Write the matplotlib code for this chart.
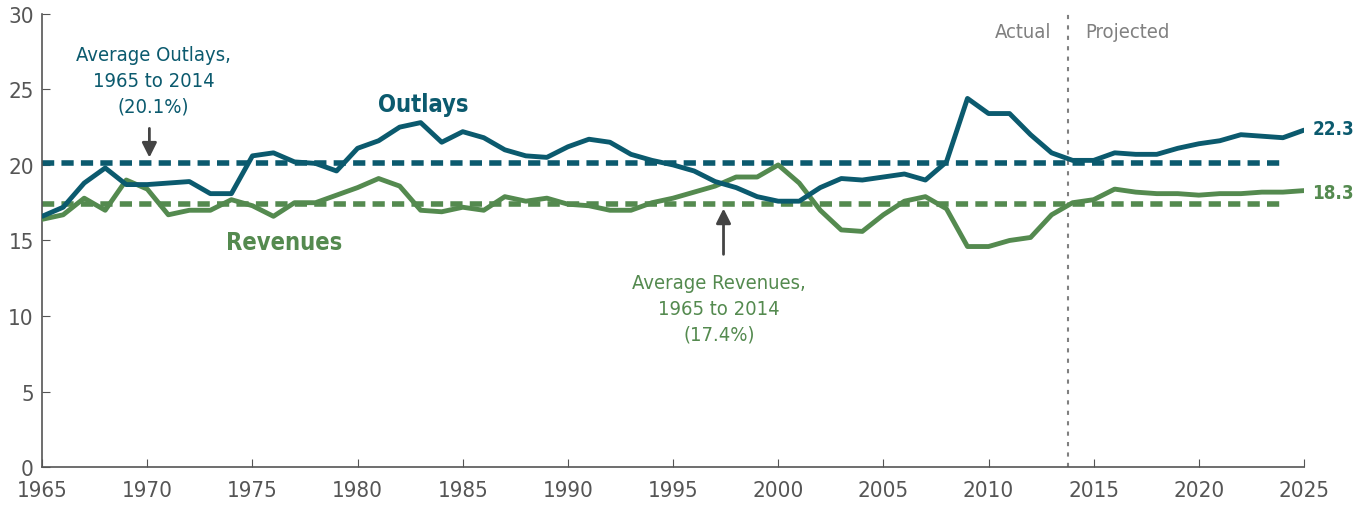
import matplotlib
matplotlib.use("Agg")
import matplotlib.pyplot as plt
from matplotlib import font_manager

years = list(range(1965, 2026))
outlays = [16.6, 17.2, 18.8, 19.8, 18.7, 18.7, 18.8, 18.9, 18.1, 18.1,
           20.6, 20.8, 20.2, 20.1, 19.6, 21.1, 21.6, 22.5, 22.8, 21.5,
           22.2, 21.8, 21.0, 20.6, 20.5, 21.2, 21.7, 21.5, 20.7, 20.3,
           20.0, 19.6, 18.9, 18.5, 17.9, 17.6, 17.6, 18.5, 19.1, 19.0,
           19.2, 19.4, 19.0, 20.2, 24.4, 23.4, 23.4, 22.0, 20.8, 20.3,
           20.3, 20.8, 20.7, 20.7, 21.1, 21.4, 21.6, 22.0, 21.9, 21.8,
           22.3]
revenues = [16.4, 16.7, 17.8, 17.0, 19.0, 18.4, 16.7, 17.0, 17.0, 17.7,
            17.3, 16.6, 17.5, 17.5, 18.0, 18.5, 19.1, 18.6, 17.0, 16.9,
            17.2, 17.0, 17.9, 17.6, 17.8, 17.4, 17.3, 17.0, 17.0, 17.5,
            17.8, 18.2, 18.6, 19.2, 19.2, 20.0, 18.8, 17.0, 15.7, 15.6,
            16.7, 17.6, 17.9, 17.1, 14.6, 14.6, 15.0, 15.2, 16.7, 17.5,
            17.7, 18.4, 18.2, 18.1, 18.1, 18.0, 18.1, 18.1, 18.2, 18.2,
            18.3]
avg_outlays = 20.1
avg_revenues = 17.4
avg_span = [1965, 2024]
divider_year = 2013.8
x_ticks = [1965, 1970, 1975, 1980, 1985, 1990, 1995, 2000, 2005, 2010, 2015, 2020, 2025]
y_ticks = [0, 5, 10, 15, 20, 25, 30]

# Look for a condensed/narrow face among installed fonts
cond = [f for f in font_manager.fontManager.ttflist
        if any(k in f.fname.lower() for k in ('narrow', 'condensed', 'cond'))]
props_reg = None
props_bold = None
for f in cond:
    if f.style != 'normal':
        continue
    w = f.weight if isinstance(f.weight, int) else (700 if f.weight == 'bold' else 400)
    if w >= 600 and props_bold is None:
        props_bold = f.fname
    if w < 600 and props_reg is None:
        props_reg = f.fname

plt.rcParams['font.family'] = ['Roboto', 'DejaVu Sans']

def fp(bold=False, size=15):
    path = props_bold if bold else props_reg
    if path:
        return font_manager.FontProperties(fname=path, size=size)
    return font_manager.FontProperties(family=['Roboto', 'DejaVu Sans'],
                                       weight='bold' if bold else 'normal', size=size)

BLUE = '#0b5a6e'
GREEN = '#548a4f'
GRAY = '#555555'
TXT = '#555555'

fig = plt.figure(figsize=(13.59, 5.10), dpi=100)
ax = fig.add_axes([0.031, 0.082, 0.9285, 0.889])

ax.plot(avg_span, [avg_outlays] * 2, color=BLUE, lw=4, ls=(0, (2.2, 1.3)), solid_capstyle='butt', zorder=2)
ax.plot(avg_span, [avg_revenues] * 2, color=GREEN, lw=4, ls=(0, (2.2, 1.3)), solid_capstyle='butt', zorder=2)
ax.plot(years, revenues, color=GREEN, lw=3.5, solid_capstyle='round', zorder=3)
ax.plot(years, outlays, color=BLUE, lw=3.5, solid_capstyle='round', zorder=4)

ax.axvline(divider_year, color='#808080', lw=1.5, ls=(0, (2, 3)), zorder=1)

ax.set_xlim(1965, 2025)
ax.set_ylim(0, 30)
ax.set_xticks(x_ticks)
ax.set_yticks(y_ticks)
ax.tick_params(axis='x', direction='in', length=6, color=GRAY, labelcolor=TXT, pad=9)
ax.tick_params(axis='y', direction='in', length=6, color=GRAY, labelcolor=TXT, pad=6)
for lab in ax.get_xticklabels() + ax.get_yticklabels():
    lab.set_fontproperties(fp(False, 16))
for s in ['top', 'right']:
    ax.spines[s].set_visible(False)
for s in ['left', 'bottom']:
    ax.spines[s].set_color(GRAY)
    ax.spines[s].set_linewidth(1.2)
ax.spines['bottom'].set_zorder(5)

big = 17
mid = 14.5

ax.text(1970.3, 25.6, 'Average Outlays,\n1965 to 2014\n(20.1%)', color=BLUE, fontproperties=fp(False, mid),
        ha='center', va='center', linespacing=1.45)
ax.annotate('', xy=(1970.1, 20.3), xytext=(1970.1, 22.6),
            arrowprops=dict(arrowstyle='-|>', color='#444444', lw=2, mutation_scale=22))

ax.text(1983.1, 24.0, 'Outlays', color=BLUE, fontproperties=fp(True, big), ha='center', va='center')
ax.text(1976.5, 14.9, 'Revenues', color=GREEN, fontproperties=fp(True, big), ha='center', va='center')

ax.text(1997.2, 10.5, 'Average Revenues,\n1965 to 2014\n(17.4%)', color=GREEN, fontproperties=fp(False, mid),
        ha='center', va='center', linespacing=1.45)
ax.annotate('', xy=(1997.4, 17.3), xytext=(1997.4, 13.9),
            arrowprops=dict(arrowstyle='-|>', color='#444444', lw=2, mutation_scale=22))

ax.text(divider_year - 0.8, 28.8, 'Actual', color='#808080', fontproperties=fp(False, mid), ha='right', va='center')
ax.text(divider_year + 0.8, 28.8, 'Projected', color='#808080', fontproperties=fp(False, mid), ha='left', va='center')

ax.text(years[-1] + 0.4, outlays[-1] + 0.1, f'{outlays[-1]:.1f}', color=BLUE, fontproperties=fp(True, 13.5),
        ha='left', va='center', clip_on=False)
ax.text(years[-1] + 0.4, revenues[-1] - 0.1, f'{revenues[-1]:.1f}', color=GREEN, fontproperties=fp(True, 13.5),
        ha='left', va='center', clip_on=False)

fig.savefig('out.png', dpi=100)
